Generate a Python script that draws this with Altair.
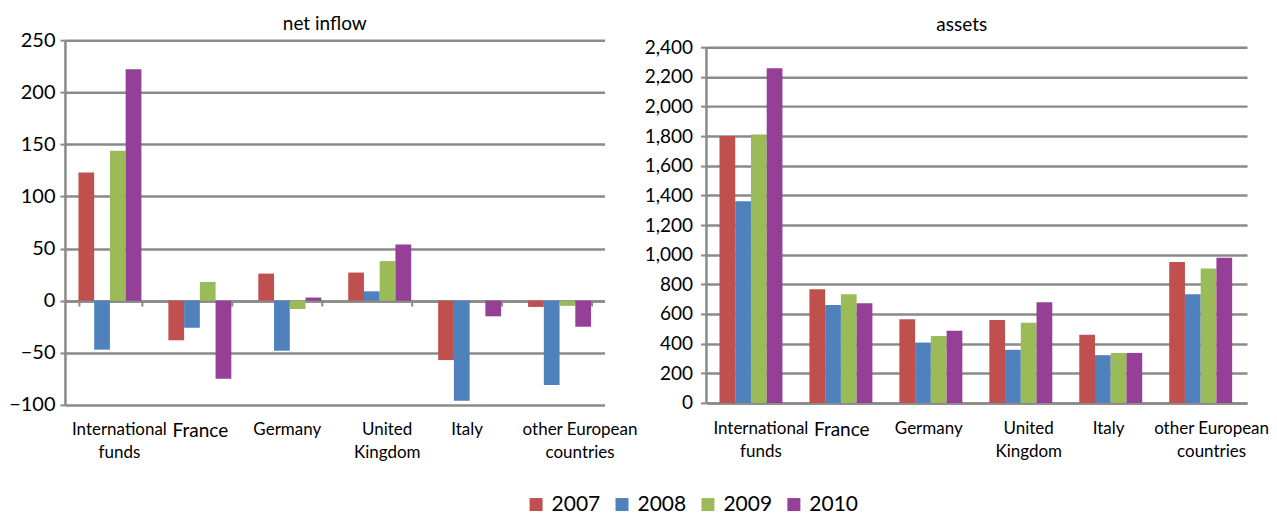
import altair as alt
import pandas as pd

categories = ["International funds", "France", "Germany", "United Kingdom", "Italy",
              "other European countries"]
years = ["2007", "2008", "2009", "2010"]
colors = ["#C0504D", "#4F81BD", "#9BBB59", "#953F97"]

net_2007 = [123, -38, 26, 27, -57, -6]
net_2008 = [-47, -26, -48, 9, -96, -81]
net_2009 = [144, 18, -8, 38, 0, -5]
net_2010 = [222, -75, 3, 54, -15, -25]

assets_2007 = [1800, 766, 565, 559, 460, 950]
assets_2008 = [1360, 661, 407, 358, 322, 733]
assets_2009 = [1810, 733, 451, 541, 337, 907]
assets_2010 = [2257, 673, 487, 679, 337, 979]

net_ticks = [-100, -50, 0, 50, 100, 150, 200, 250]
asset_ticks = [0, 200, 400, 600, 800, 1000, 1200, 1400, 1600, 1800, 2000, 2200, 2400]


def long(series):
    rows = []
    for y, vals in zip(years, series):
        for c, v in zip(categories, vals):
            rows.append({"cat": c, "year": y, "value": v})
    return pd.DataFrame(rows)


net_df = long([net_2007, net_2008, net_2009, net_2010])
assets_df = long([assets_2007, assets_2008, assets_2009, assets_2010])
asset_axis_df = pd.DataFrame({"lo": [asset_ticks[0]], "hi": [asset_ticks[-1]]})

GRID = "#8a8a8a"
FONT = "Lato"

label_expr = (
    "datum.value == 'International funds' ? ['International', 'funds'] : "
    "datum.value == 'United Kingdom' ? ['United', 'Kingdom'] : "
    "datum.value == 'other European countries' ? ['other European', 'countries'] : datum.label"
)
label_size = {"condition": {"test": "datum.value == 'France'", "value": 19}, "value": 17}


def label_offset(other_shift):
    return {
        "condition": [
            {"test": "datum.value == 'International funds'", "value": 9},
            {"test": "datum.value == 'United Kingdom'", "value": 7},
            {"test": "datum.value == 'other European countries'", "value": other_shift},
            {"test": "datum.value == 'Germany' || datum.value == 'Italy'", "value": -3},
        ],
        "value": 0,
    }


color = alt.Color(
    "year:N",
    sort=years,
    scale=alt.Scale(domain=years, range=colors),
    legend=alt.Legend(
        title=None, orient="none", legendX=461, legendY=454, direction="horizontal",
        symbolType="square", symbolSize=169, symbolStrokeWidth=0,
        labelFontSize=21, labelFont=FONT, labelColor="black",
        labelOffset=5, columnPadding=11,
    ),
)

left = alt.Chart(net_df).mark_bar().encode(
    x=alt.X(
        "cat:N", sort=categories, title=None,
        scale=alt.Scale(paddingInner=0.3, paddingOuter=0.15),
        axis=alt.Axis(
            labelExpr=label_expr, labelAngle=0, offset=-104,
            domain=True, domainColor=GRID, domainWidth=2.5,
            ticks=True, tickBand="extent", tickSize=5, tickColor=GRID, tickWidth=2,
            labelPadding=116, labelBaseline="top", labelFontSize=label_size,
            labelOffset=label_offset(20), labelLineHeight=23, grid=False,
        ),
    ),
    xOffset=alt.XOffset("year:N", sort=years),
    y=alt.Y(
        "value:Q", title=None,
        scale=alt.Scale(domain=[-100, 250], nice=False, zero=False),
        axis=alt.Axis(values=net_ticks, grid=True, gridColor=GRID, gridWidth=2.5,
                      domainColor=GRID, domainWidth=2.5, tickColor=GRID, tickWidth=2,
                      tickSize=5, labelFontSize=20, labelPadding=5, labelOverlap=False),
    ),
    color=color,
).properties(
    width=540, height=365,
    title=alt.TitleParams("net inflow", fontSize=19, font=FONT, fontWeight="normal",
                          offset=-4, dx=-10),
)

right_y_scale = alt.Scale(domain=[0, 2400 * 363 / 356], nice=False)
right_y_axis = alt.Axis(values=asset_ticks, format=",d", grid=True, gridColor=GRID,
                        gridWidth=2.5, domain=False, tickColor=GRID, tickWidth=2,
                        tickSize=6, labelFontSize=19, labelPadding=8, labelOverlap=False)

right_bars = alt.Chart(assets_df).mark_bar().encode(
    x=alt.X(
        "cat:N", sort=categories, title=None,
        scale=alt.Scale(paddingInner=0.28, paddingOuter=0.145),
        axis=alt.Axis(
            labelExpr=label_expr, labelAngle=0,
            domain=True, domainColor=GRID, domainWidth=2.5, ticks=False,
            labelPadding=18, labelBaseline="top", labelFontSize=label_size,
            labelOffset=label_offset(10), labelLineHeight=23, grid=False,
        ),
    ),
    xOffset=alt.XOffset("year:N", sort=years),
    y=alt.Y("value:Q", title=None, scale=right_y_scale, axis=right_y_axis),
    color=color,
)

right_axis_line = alt.Chart(asset_axis_df).mark_rule(color=GRID, strokeWidth=2.5).encode(
    x=alt.value(0),
    y=alt.Y("lo:Q", title=None, scale=right_y_scale, axis=right_y_axis),
    y2=alt.Y2("hi:Q"),
)

right = alt.layer(right_bars, right_axis_line).properties(
    width=541, height=363,
    title=alt.TitleParams("assets", fontSize=19, font=FONT, fontWeight="normal",
                          offset=3.5, dx=-15),
)

chart = alt.hconcat(left, right, spacing=6).properties(
    padding={"left": 0, "top": 7, "right": 0, "bottom": 5}
).configure_view(stroke=None).configure_axis(
    labelFont=FONT, labelColor="black"
).configure_title(color="black")

chart.save("out.html", embed_options={"renderer": "svg", "actions": False})
